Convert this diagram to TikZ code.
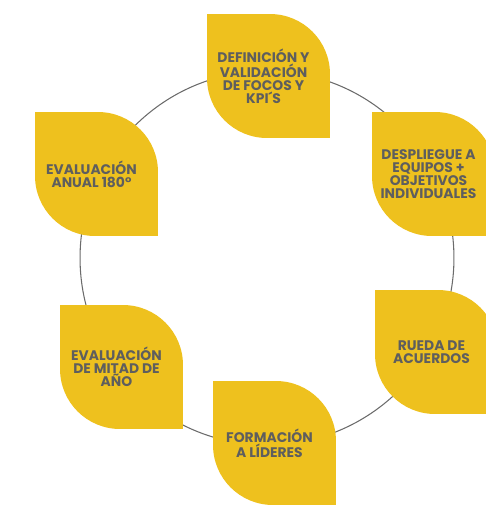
\documentclass[tikz,border=0pt]{standalone}
\usepackage{fontspec}
\setmainfont{Poppins}
\usepackage{tikz}
\definecolor{amarillo}{HTML}{EEC11E}
\definecolor{gristexto}{HTML}{5E5E5E}
\definecolor{grislinea}{HTML}{6B6B6B}

\begin{document}
\begin{tikzpicture}[
    x=0.02cm, y=-0.02cm,
    hoja/.style={minimum width=2.66cm, minimum height=2.48cm, inner sep=0pt,
      align=center, text=gristexto,
      font={\fontsize{7.9}{7.4}\selectfont\bfseries},
      path picture={\fill[amarillo] ([xshift=0.2cm]path picture bounding box.north west)
        -- ([xshift=-1.2cm]path picture bounding box.north east)
        arc[start angle=90, end angle=0, radius=1.2cm]
        -- (path picture bounding box.south east)
        -- ([xshift=1.4cm]path picture bounding box.south west)
        arc[start angle=270, end angle=180, radius=1.2cm] -- cycle;}},
    anillo/.style={draw=grislinea, line width=0.6pt}
  ]
    \useasboundingbox (0,0) rectangle (485,505);
    \coordinate (centro) at (267,258);
    \draw[anillo] (centro) circle[radius=3.74cm];

    % hojas con el texto algo a la izquierda del centro
    \node[hoja] (definicion) at (263.5,76) {DEFINICIÓN Y\\VALIDACIÓN\\DE FOCOS Y\\KPI´S};
    \node[hoja] (despliegue) at (428.5,174) {DESPLIEGUE A\\EQUIPOS +\\OBJETIVOS\\INDIVIDUALES};
    \node[hoja] (rueda) at (431.5,352) {RUEDA DE\\ACUERDOS};
    \node[hoja] (formacion) at (269.5,443) {FORMACIÓN\\A LÍDERES};
    \node[hoja] (mitad) at (116.5,367) {EVALUACIÓN\\DE MITAD DE\\AÑO};
    \node[hoja] (anual) at (91.5,174) {EVALUACIÓN\\ANUAL 180°};
  \end{tikzpicture}
\end{document}
